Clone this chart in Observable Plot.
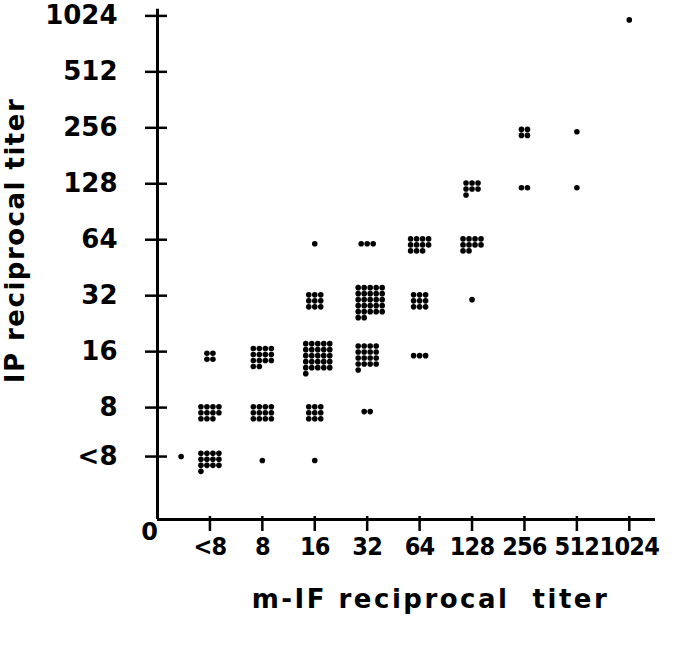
<!DOCTYPE html>
<html>
<head>
<meta charset="utf-8">
<script src="https://cdn.jsdelivr.net/npm/d3@7"></script>
<script src="https://cdn.jsdelivr.net/npm/@observablehq/plot@0.6"></script>
<style>
  html, body { margin: 0; padding: 0; background: #fff; }
  #chart { width: 687px; height: 647px; }
</style>
</head>
<body>
<div id="chart"></div>
<script>
// ---- data ----
const xCategories = ["<8", "8", "16", "32", "64", "128", "256", "512", "1024"];
const yCategories = ["<8", "8", "16", "32", "64", "128", "256", "512", "1024"];

// clusters: m-IF titer (x), IP titer (y), number of sera, dots per row
const clusterX = ["<8","<8","<8","8","8","8","16","16","16","16","16","32","32","32","32","64","64","64","128","128","128","256","256","512","512","1024"];
const clusterY = ["<8","8","16","<8","8","16","<8","8","16","32","64","8","16","32","64","16","32","64","32","64","128","128","256","128","256","1024"];
const clusterCount = [13,11,4,1,12,14,1,9,26,9,1,2,17,27,3,3,9,11,1,10,7,2,4,1,1,1];
const clusterCols  = [4,4,2,1,4,4,1,3,5,3,1,2,4,5,3,3,3,4,1,4,3,2,2,1,1,1];

// one serum plotted between 0 and <8 on the m-IF axis
const strayX = [0.45];
const strayY = ["<8"];

const xTitle = "m-IF reciprocal  titer";
const yTitle = "IP reciprocal titer";

// ---- layout ----
const W = 687, H = 647, mL = 157, mR = 32, mT = 7, mB = 128;
const xDom = [0, 9.5], yDom = [0, 9.15];
const perPxX = (xDom[1] - xDom[0]) / (W - mL - mR);
const perPxY = (yDom[1] - yDom[0]) / (H - mT - mB);

const xIndex = c => xCategories.indexOf(c) + 1;
const yIndex = c => (c === "<8" ? 1.125 : yCategories.indexOf(c) + 1);

const sp = 6; // dot spacing in px
const dots = [];
clusterX.forEach((xc, i) => {
  const n = clusterCount[i], c = clusterCols[i];
  const rows = Math.ceil(n / c);
  const x0 = xIndex(xc), y0 = yIndex(clusterY[i]);
  for (let k = 0; k < n; k++) {
    const r = Math.floor(k / c), col = k % c;
    const dxPx = (col - (c - 1) / 2) * sp + (c >= 5 ? 3 : 0);
    const dyPx = 4 - (rows - 1) * sp * 0.4 + r * sp;
    dots.push({x: x0 + dxPx * perPxX, y: y0 - dyPx * perPxY});
  }
});
strayX.forEach((x, i) => dots.push({x, y: yIndex(strayY[i])}));

const xTicks = xCategories.map(c => ({v: xIndex(c), label: c}));
const yTicks = yCategories.map(c => ({v: yIndex(c), label: c}));

const font = "DejaVu Sans, Verdana, sans-serif";
const condensed = "DejaVu Sans Condensed, DejaVu Sans, sans-serif";

const plot = Plot.plot({
  width: W, height: H,
  marginLeft: mL, marginRight: mR, marginTop: mT, marginBottom: mB,
  x: {domain: xDom, axis: null},
  y: {domain: yDom, axis: null},
  style: {fontFamily: font, background: "#fff"},
  marks: [
    // axis lines
    Plot.ruleX([0], {y1: 0, y2: 9.12, stroke: "black", strokeWidth: 3}),
    Plot.ruleY([0], {x1: 0, x2: 9.5, stroke: "black", strokeWidth: 3}),
    // y ticks crossing the axis
    Plot.ruleY(yTicks, {y: "v", x1: -12 * perPxX, x2: 10 * perPxX, stroke: "black", strokeWidth: 2.5}),
    // x ticks hanging below the axis
    Plot.ruleX(xTicks, {x: "v", y1: 3 * perPxY, y2: -12 * perPxY, stroke: "black", strokeWidth: 2.5}),
    // tick labels
    Plot.text(yTicks, {x: 0, y: "v", text: "label", dx: -40, textAnchor: "end",
      fontSize: 26, fontWeight: "bold", fill: "black"}),
    Plot.text(xTicks, {x: "v", y: 0, text: "label", dy: 27, fontFamily: condensed,
      fontSize: 25, fontWeight: "bold", fill: "black"}),
    Plot.text(["0"], {x: 0, y: 0, text: d => d, dx: -8, dy: 13, fontSize: 24, fontWeight: "bold", fill: "black"}),
    // axis titles
    Plot.text([xTitle], {frameAnchor: "bottom", text: d => d, dx: 24, dy: 88,
      fontSize: 26, fontWeight: "bold", fill: "black"}),
    Plot.text([yTitle], {frameAnchor: "left", textAnchor: "middle", text: d => d, dx: -142, dy: -23, rotate: -90,
      fontSize: 26, fontWeight: "bold", fill: "black"}),
    // sera
    Plot.dot(dots, {x: "x", y: "y", r: 2.8, fill: "black", stroke: "none"})
  ]
});
const sel = d3.select(plot).selectAll("text");
sel.filter(function() { return this.textContent === xTitle; }).attr("letter-spacing", 2.5);
sel.filter(function() { return this.textContent === yTitle; }).attr("letter-spacing", 1.5);
d3.select(plot).selectAll('g[font-size="25"] text').attr("letter-spacing", -0.8);
document.getElementById("chart").appendChild(plot);
</script>
</body>
</html>
